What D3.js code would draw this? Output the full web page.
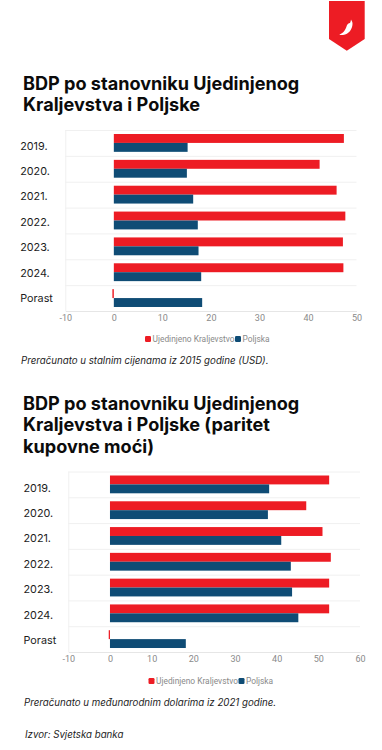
<!DOCTYPE html>
<html>
<head>
<meta charset="utf-8">
<script src="https://d3js.org/d3.v7.min.js"></script>
<style>
    html, body { margin: 0; padding: 0; background: #fff; }
    svg { display: block; }
    .title { font-family: Inter, sans-serif; font-weight: 700; font-size: 18.1px; fill: #0b0b0b; }
    .cat { font-family: Inter, sans-serif; font-size: 10.8px; fill: #1c1c1c; }
    .note { font-family: Inter, sans-serif; font-style: italic; font-size: 9.7px; fill: #1c1c1c; }
    .tick text, .leg { font-family: Roboto, sans-serif; font-size: 8.4px; fill: #8a8a8a; }
    .tick text { font-size: 9px; }
</style>
</head>
<body>
<script>
var categories = ["2019.", "2020.", "2021.", "2022.", "2023.", "2024.", "Porast"];
var seriesNames = ["Ujedinjeno Kraljevstvo", "Poljska"];
var ukGdp = [47.4, 42.4, 45.9, 47.7, 47.2, 47.3, -0.3];
var plGdp = [15.2, 15.05, 16.35, 17.3, 17.45, 18.0, 18.2];
var ukPpp = [52.6, 47.1, 51.0, 53.0, 52.6, 52.6, -0.3];
var plPpp = [38.2, 37.9, 41.1, 43.4, 43.7, 45.2, 18.2];
var ticksGdp = [-10, 0, 10, 20, 30, 40, 50];
var ticksPpp = [-10, 0, 10, 20, 30, 40, 50, 60];

var red = "#ed1c24", blue = "#0f4c75";
var width = 382, height = 750;

var svg = d3.select("body").append("svg").attr("width", width).attr("height", height);

// logo
svg.append("path").attr("d", "M329,1H364.7V39L346.8,50.7L329,39Z").attr("fill", red);
svg.append("path")
    .attr("d", "M351,19.5C351.5,21 352.8,22 352.5,24C352.3,29 349,34.5 343,35C341.5,35.2 340,35 339.3,34.5C343,33.5 345.5,30 346.5,26.5C347,24.5 348.5,23 350,23C350.5,22 350.8,21 351,19.5Z")
    .attr("fill", "#fff");

function drawChart(o) {
    var x = d3.scaleLinear().domain(o.domain).range(o.xRange);
    var y = d3.scaleBand().domain(categories).range(o.yRange);
    var labelY = d3.scalePoint().domain(categories).range(o.labelRange);
    var g = svg.append("g");

    o.title.forEach(function(t, i) {
        g.append("text").attr("class", "title").attr("x", 23).attr("y", o.titleY + i * 21.3).text(t);
    });

    // horizontal separators
    g.selectAll(".sep").data(categories).enter().append("line")
        .attr("x1", o.xRange[0]).attr("x2", o.xRange[1])
        .attr("y1", function(d) { return y(d) + 0.5; })
        .attr("y2", function(d) { return y(d) + 0.5; })
        .attr("stroke", "#f0f0f0");
    g.append("line")
        .attr("x1", o.xRange[0] + 0.5).attr("x2", o.xRange[0] + 0.5)
        .attr("y1", o.yRange[0]).attr("y2", o.yRange[1])
        .attr("stroke", "#f0f0f0");

    var axis = d3.axisBottom(x).tickValues(o.ticks).tickFormat(String).tickSize(0).tickPadding(4);
    var ax = g.append("g").attr("transform", "translate(0," + o.yRange[1] + ")").call(axis);
    ax.select(".domain").attr("stroke", "#e6e6e6");
    ax.selectAll("text").attr("font-family", null).attr("font-size", null);

    var barH = y.bandwidth() * 0.345;
    [o.uk, o.pl].forEach(function(vals, s) {
        g.selectAll(".bar" + s).data(vals).enter().append("rect")
            .attr("x", function(d) { return x(Math.min(0, d)); })
            .attr("width", function(d) { return Math.abs(x(d) - x(0)); })
            .attr("y", function(d, i) { return y(categories[i]) + 4 + s * barH; })
            .attr("height", barH)
            .attr("fill", s == 0 ? red : blue);
    });

    g.selectAll(".cat").data(categories).enter().append("text")
        .attr("class", "cat")
        .attr("x", o.labelX)
        .attr("y", function(d) { return labelY(d); })
        .attr("dy", "0.36em")
        .text(function(d) { return d; });

    // legend
    var leg = g.append("g").attr("transform", "translate(" + o.legendX + "," + o.legendY + ")");
    var legX = [0, 90];
    seriesNames.forEach(function(n, i) {
        leg.append("rect").attr("x", legX[i]).attr("y", -3).attr("width", 6).attr("height", 6)
            .attr("rx", 1.2).attr("fill", i == 0 ? red : blue);
        leg.append("text").attr("class", "leg").attr("x", legX[i] + 7.5).attr("y", 3).text(n);
    });

    g.append("text").attr("class", "note").attr("x", o.noteX).attr("y", o.noteY).text(o.note);
}

drawChart({
    title: ["BDP po stanovniku Ujedinjenog", "Kraljevstva i Poljske"],
    titleY: 90, uk: ukGdp, pl: plGdp, ticks: ticksGdp, domain: [-10, 50],
    xRange: [65.3, 356.5], yRange: [130, 311], labelRange: [145.7, 298.3], labelX: 20.2,
    legendX: 145, legendY: 339, note: "Preračunato u stalnim cijenama iz 2015 godine (USD).",
    noteX: 21, noteY: 364
});
drawChart({
    title: ["BDP po stanovniku Ujedinjenog", "Kraljevstva i Poljske (paritet", "kupovne moći)"],
    titleY: 410, uk: ukPpp, pl: plPpp, ticks: ticksPpp, domain: [-10, 60],
    xRange: [68.3, 360], yRange: [471.5, 652], labelRange: [487.7, 640], labelX: 23.5,
    legendX: 148.5, legendY: 681, note: "Preračunato u međunarodnim dolarima iz 2021 godine.",
    noteX: 24, noteY: 706
});
svg.append("text").attr("class", "note").attr("x", 25).attr("y", 738).text("Izvor: Svjetska banka");
</script>
</body>
</html>
